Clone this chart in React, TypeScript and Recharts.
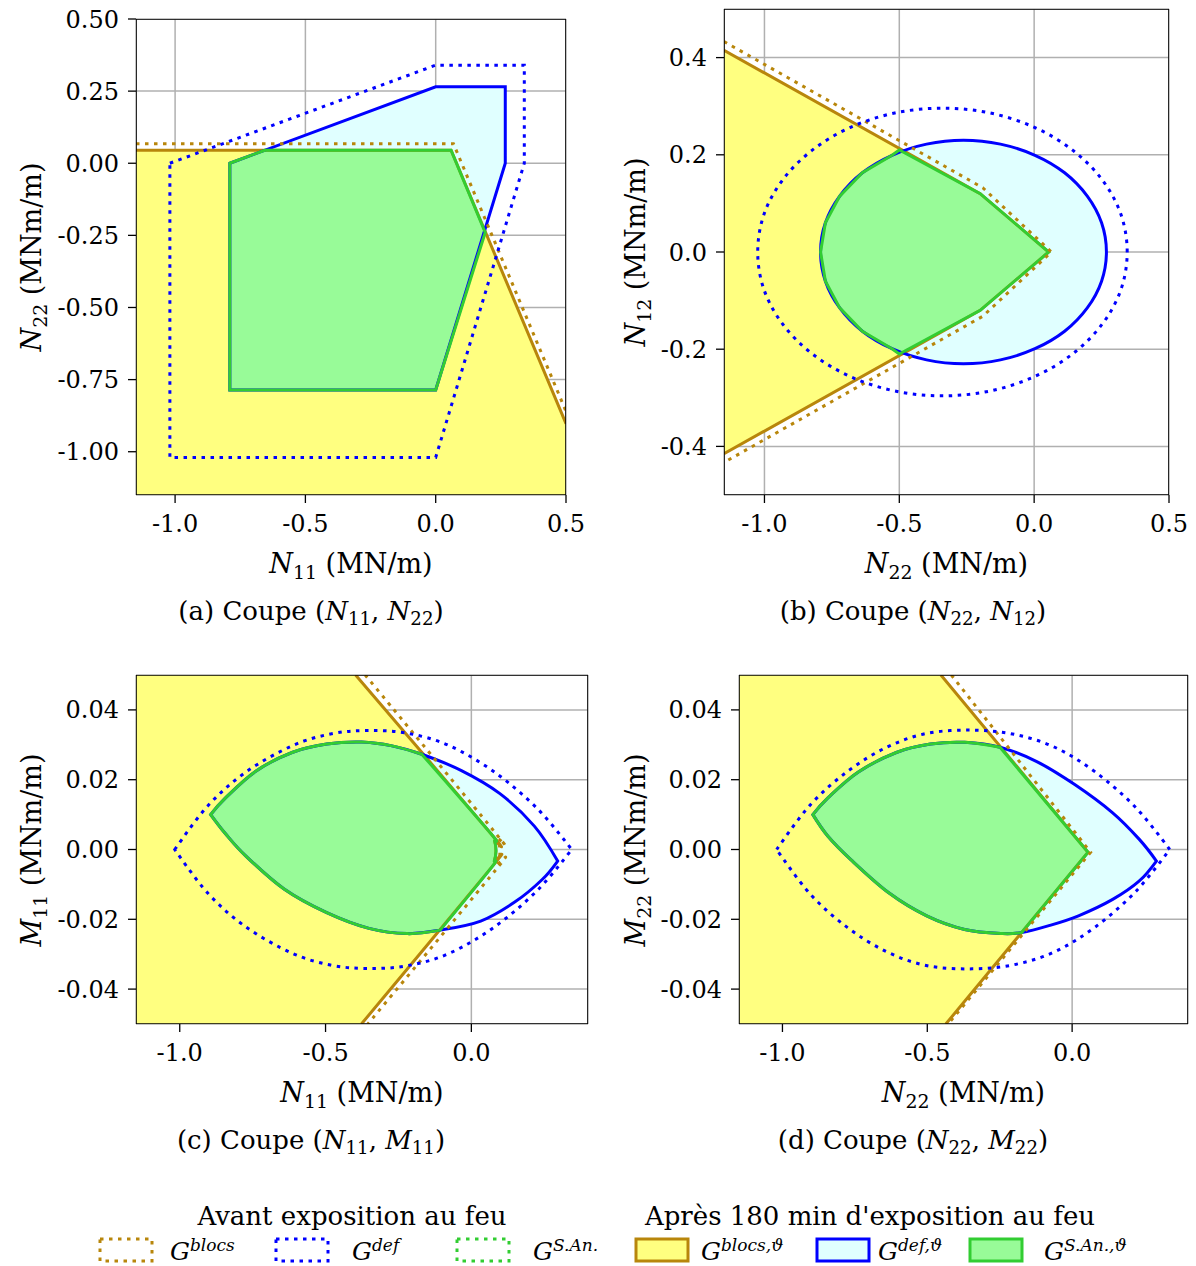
import React from "react";
import { CartesianGrid, Scatter, ScatterChart, XAxis, YAxis } from "recharts";

type XY = [number, number];

const BROWN = "#b8860b";
const YELLOW = "#ffff80";
const BLUE = "#0000ff";
const CYAN = "#e0ffff";
const GREEN = "#32cd32";
const PALEGREEN = "#98fb98";
const GRID = "#b0b0b0";
const FONT = "'DejaVu Serif', serif";

// ---- (a) Coupe (N11, N22) ----
const A_X_TICKS = [-1.0, -0.5, 0.0, 0.5];
const A_Y_TICKS = [-1.0, -0.75, -0.5, -0.25, 0.0, 0.25, 0.5];
const A_BLOCS_T: XY[] = [[-1.15, 0.045], [0.059, 0.045], [0.5, -0.903]];
const A_BLOCS_T_CLOSE: XY[] = [[0.5, -1.15], [-1.15, -1.15]];
const A_DEF_T: XY[] = [[-0.79, 0], [0, 0.265], [0.267, 0.265], [0.267, 0], [0, -0.786], [-0.79, -0.786]];
const A_SAN_T: XY[] = [[-0.79, 0], [-0.656, 0.045], [0.059, 0.045], [0.19, -0.24], [0, -0.786], [-0.79, -0.786]];
const A_BLOCS: XY[] = [[-1.15, 0.068], [0.068, 0.068], [0.5, -0.86]];
const A_DEF: XY[] = [[-1.02, 0], [0, 0.34], [0.34, 0.34], [0.34, 0], [0, -1.02], [-1.02, -1.02]];

// ---- (b) Coupe (N22, N12) ----
const B_X_TICKS = [-1.0, -0.5, 0.0, 0.5];
const B_Y_TICKS = [-0.4, -0.2, 0.0, 0.2, 0.4];
const B_BLOCS_T: XY[] = [[-1.15, 0.415], [-0.2, 0.12], [0.054, 0], [-0.2, -0.12], [-1.15, -0.415]];
const B_DEF_T: XY[] = [
  [0.268, 0], [0.25, 0.06], [0.197, 0.115], [0.113, 0.163], [0.003, 0.199], [-0.125, 0.222],
  [-0.262, 0.23], [-0.399, 0.222], [-0.527, 0.199], [-0.637, 0.163], [-0.721, 0.115], [-0.774, 0.06],
  [-0.792, 0], [-0.774, -0.06], [-0.721, -0.115], [-0.637, -0.163], [-0.527, -0.199], [-0.399, -0.222],
  [-0.262, -0.23], [-0.125, -0.222], [0.003, -0.199], [0.113, -0.163], [0.197, -0.115], [0.25, -0.06],
];
const B_SAN_T: XY[] = [
  [-0.5, 0.21], [-0.527, 0.199], [-0.637, 0.163], [-0.721, 0.115], [-0.774, 0.06], [-0.792, 0],
  [-0.774, -0.06], [-0.721, -0.115], [-0.637, -0.163], [-0.527, -0.199], [-0.5, -0.21],
  [-0.2, -0.12], [0.054, 0], [-0.2, 0.12],
];
const B_BLOCS: XY[] = [[-1.15, 0.433], [-0.19, 0.132], [0.064, 0], [-0.19, -0.132], [-1.15, -0.433]];
const B_DEF: XY[] = [
  [0.345, 0], [0.322, 0.077], [0.253, 0.148], [0.144, 0.209], [0.003, 0.256], [-0.163, 0.286],
  [-0.34, 0.296], [-0.517, 0.286], [-0.683, 0.256], [-0.824, 0.209], [-0.933, 0.148], [-1.002, 0.077],
  [-1.025, 0], [-1.002, -0.077], [-0.933, -0.148], [-0.824, -0.209], [-0.683, -0.256], [-0.517, -0.286],
  [-0.34, -0.296], [-0.163, -0.286], [0.003, -0.256], [0.144, -0.209], [0.253, -0.148], [0.322, -0.077],
];

// ---- (c) Coupe (N11, M11) ----
const C_X_TICKS = [-1.0, -0.5, 0.0];
const C_Y_TICKS = [-0.04, -0.02, 0.0, 0.02, 0.04];
const C_BLOCS_T: XY[] = [
  [-0.397, 0.05], [0.0646, 0.0048], [0.08, 0.0024], [0.0844, -0.0005], [0.079, -0.0033],
  [0.0686, -0.0052], [-0.377, -0.05],
];
const C_BLOCS_T_CLOSE: XY[] = [[-1.15, -0.05], [-1.15, 0.05]];
const C_DEF_T: XY[] = [
  [-0.894, 0.01], [-0.843, 0.0148], [-0.738, 0.0225], [-0.615, 0.0278], [-0.496, 0.0302],
  [-0.377, 0.0308], [-0.272, 0.0297], [-0.17, 0.0273], [-0.034, 0.0226], [0.098, 0.016],
  [0.216, 0.0067], [0.296, -0.0033], [0.243, -0.0086], [0.15, -0.015], [0.032, -0.0205],
  [-0.107, -0.0231], [-0.219, -0.0241], [-0.351, -0.0226], [-0.496, -0.0181], [-0.641, -0.0114],
  [-0.773, -0.0019], [-0.843, 0.0045],
];
const C_SAN_T: XY[] = [
  [-0.894, 0.01], [-0.843, 0.0148], [-0.738, 0.0225], [-0.615, 0.0278], [-0.496, 0.0302],
  [-0.377, 0.0308], [-0.272, 0.0297], [-0.17, 0.0273], [0.0646, 0.0048], [0.08, 0.0024],
  [0.0844, -0.0005], [0.079, -0.0033], [0.0686, -0.0052], [-0.107, -0.0231], [-0.219, -0.0241],
  [-0.351, -0.0226], [-0.496, -0.0181], [-0.641, -0.0114], [-0.773, -0.0019], [-0.843, 0.0045],
];
const C_BLOCS: XY[] = [
  [-0.364, 0.05], [0.078, 0.0052], [0.092, 0.003], [0.098, -0.0005], [0.093, -0.0038],
  [0.082, -0.006], [-0.355, -0.05],
];
const C_DEF: XY[] = [
  [-1.017, 0], [-0.905, 0.0124], [-0.773, 0.0222], [-0.615, 0.0297], [-0.483, 0.0331],
  [-0.357, 0.0341], [-0.219, 0.0333], [-0.074, 0.0297], [0.084, 0.0219], [0.23, 0.0114],
  [0.344, 0], [0.23, -0.0114], [0.084, -0.0219], [-0.074, -0.0297], [-0.219, -0.0333],
  [-0.357, -0.0341], [-0.483, -0.0331], [-0.615, -0.0297], [-0.773, -0.0222], [-0.905, -0.0124],
];

// ---- (d) Coupe (N22, M22) ----
const D_X_TICKS = [-1.0, -0.5, 0.0];
const D_Y_TICKS = [-0.04, -0.02, 0.0, 0.02, 0.04];
const D_BLOCS_T: XY[] = [[-0.453, 0.05], [0.055, -0.0008], [-0.436, -0.05]];
const D_BLOCS_T_CLOSE: XY[] = [[-1.15, -0.05], [-1.15, 0.05]];
const D_DEF_T: XY[] = [
  [-0.895, 0.01], [-0.843, 0.0148], [-0.738, 0.0222], [-0.607, 0.0278], [-0.489, 0.0302],
  [-0.371, 0.0307], [-0.249, 0.0293], [-0.122, 0.0252], [0.009, 0.0186], [0.14, 0.0105],
  [0.232, 0.0029], [0.291, -0.0033], [0.232, -0.009], [0.14, -0.0143], [0.022, -0.019],
  [-0.083, -0.0219], [-0.174, -0.0238], [-0.24, -0.0241], [-0.371, -0.0229], [-0.502, -0.019],
  [-0.633, -0.0124], [-0.764, -0.0029], [-0.843, 0.0038],
];
const D_SAN_T: XY[] = [
  [-0.895, 0.01], [-0.843, 0.0148], [-0.738, 0.0222], [-0.607, 0.0278], [-0.489, 0.0302],
  [-0.371, 0.0307], [-0.249, 0.0293], [0.055, -0.0008], [-0.174, -0.0238], [-0.24, -0.0241],
  [-0.371, -0.0229], [-0.502, -0.019], [-0.633, -0.0124], [-0.764, -0.0029], [-0.843, 0.0038],
];
const D_BLOCS: XY[] = [[-0.417, 0.05], [0.064, -0.0008], [-0.428, -0.05]];
const D_DEF: XY[] = [
  [-1.02, 0], [-0.905, 0.0127], [-0.775, 0.0224], [-0.64, 0.0293], [-0.5, 0.0333],
  [-0.345, 0.0342], [-0.2, 0.033], [-0.06, 0.0293], [0.08, 0.0222], [0.22, 0.012],
  [0.337, 0], [0.22, -0.012], [0.08, -0.0222], [-0.06, -0.0293], [-0.2, -0.033],
  [-0.345, -0.0342], [-0.5, -0.0333], [-0.64, -0.0293], [-0.775, -0.0224], [-0.905, -0.0127],
];

// legend labels
const LEGEND_TITLES = ["Avant exposition au feu", "Après 180 min d'exposition au feu"];
const LEGEND_SUPS = ["blocs", "def", "S.An.", "blocs,ϑ", "def,ϑ", "S.An.,ϑ"];

interface Layer {
  data: XY[];
  fill?: string;
  stroke?: string;
  dotted?: boolean;
  closed?: boolean;
  smooth?: boolean;
  width?: number;
}

interface Box {
  left: number;
  top: number;
  w: number;
  h: number;
}

const YW = 90; // y axis band
const MT = 14;
const MR = 24;
const XH = 50;
const DOTS = "3.5 5.5";

const pts = (d: XY[]) => d.map(([x, y]) => ({ x, y }));
const NoDot = () => <g />;

type Pt = { x: number; y: number };

// path through the scaled points; smooth = catmull-rom, sharp turns kept as corners
function pathD(p: Pt[], closed: boolean, smooth: boolean) {
  const n = p.length;
  if (!n) return "";
  if (!smooth) return "M" + p.map((q) => `${q.x},${q.y}`).join("L") + (closed ? "Z" : "");
  const get = (i: number) => (closed ? p[(i + n) % n] : p[Math.max(0, Math.min(n - 1, i))]);
  const isCorner = (i: number) => {
    if (!closed && (i === 0 || i === n - 1)) return true;
    const a = get(i - 1), b = get(i), c = get(i + 1);
    let d = Math.abs(Math.atan2(c.y - b.y, c.x - b.x) - Math.atan2(b.y - a.y, b.x - a.x));
    if (d > Math.PI) d = 2 * Math.PI - d;
    return d > (26 * Math.PI) / 180;
  };
  const tan = (i: number) => {
    if (isCorner(i)) return { x: 0, y: 0 };
    const a = get(i - 1), c = get(i + 1);
    return { x: (c.x - a.x) / 2, y: (c.y - a.y) / 2 };
  };
  let d = `M${p[0].x},${p[0].y}`;
  const segs = closed ? n : n - 1;
  for (let i = 0; i < segs; i++) {
    const p0 = get(i), p1 = get(i + 1), t0 = tan(i), t1 = tan(i + 1);
    d += `C${p0.x + t0.x / 3},${p0.y + t0.y / 3} ${p1.x - t1.x / 3},${p1.y - t1.y / 3} ${p1.x},${p1.y}`;
  }
  return d + (closed ? "Z" : "");
}

function Panel({
  box,
  xDomain,
  yDomain,
  xTicks,
  yTicks,
  xDec,
  yDec,
  fills,
  edges,
}: {
  box: Box;
  xDomain: [number, number];
  yDomain: [number, number];
  xTicks: number[];
  yTicks: number[];
  xDec: number;
  yDec: number;
  fills: Layer[];
  edges: Layer[];
}) {
  const frame: XY[] = [
    [xDomain[0], yDomain[0]],
    [xDomain[1], yDomain[0]],
    [xDomain[1], yDomain[1]],
    [xDomain[0], yDomain[1]],
  ];
  const tickStyle = { fill: "#000", fontSize: 24, fontFamily: FONT };
  const layer = (l: Layer, key: string) => (
    <Scatter
      key={key}
      data={pts(l.data)}
      isAnimationActive={false}
      shape={NoDot}
      legendType="none"
      lineType="joint"
      line={(lp: any) => (
        <path
          d={pathD(lp.points as Pt[], !!l.closed, !!l.smooth)}
          fill={l.fill ?? "none"}
          stroke={l.stroke ?? "none"}
          strokeWidth={l.width ?? 3}
          strokeDasharray={l.dotted ? DOTS : undefined}
          strokeLinejoin="miter"
        />
      )}
    />
  );
  return (
    <div style={{ position: "absolute", left: box.left - YW, top: box.top - MT }}>
      <ScatterChart
        width={box.w + YW + MR}
        height={box.h + MT + XH}
        margin={{ top: MT, right: MR, bottom: 0, left: 0 }}
      >
        <XAxis
          type="number"
          dataKey="x"
          domain={xDomain}
          ticks={xTicks}
          allowDataOverflow
          height={XH}
          axisLine={false}
          tickSize={8}
          tickMargin={12}
          tickLine={{ stroke: "#000", strokeWidth: 1.3 }}
          tick={tickStyle}
          tickFormatter={(v: number) => v.toFixed(xDec)}
          interval={0}
        />
        <YAxis
          type="number"
          dataKey="y"
          domain={yDomain}
          ticks={yTicks}
          allowDataOverflow
          width={YW}
          axisLine={false}
          tickSize={8}
          tickMargin={9}
          tickLine={{ stroke: "#000", strokeWidth: 1.3 }}
          tick={tickStyle}
          tickFormatter={(v: number) => v.toFixed(yDec)}
          interval={0}
        />
        {fills.map((l, i) => layer(l, `f${i}`))}
        <CartesianGrid stroke={GRID} strokeWidth={1.5} />
        {edges.map((l, i) => layer(l, `e${i}`))}
        {layer({ data: frame, stroke: "#000", closed: true, width: 1.6 }, "frame")}
      </ScatterChart>
    </div>
  );
}

const subStyle: React.CSSProperties = { fontSize: "0.7em", position: "relative", top: "0.3em" };
const supStyle: React.CSSProperties = { fontSize: "0.68em", position: "relative", top: "-0.55em", fontStyle: "italic" };

function V({ s, sub }: { s: string; sub: string }) {
  return (
    <span style={{ whiteSpace: "nowrap" }}>
      <i>{s}</i>
      <span style={subStyle}>{sub}</span>
    </span>
  );
}

function XLabel({ cx, cy, size = 26, children }: { cx: number; cy: number; size?: number; children: React.ReactNode }) {
  return (
    <div
      style={{
        position: "absolute",
        left: cx,
        top: cy,
        transform: "translate(-50%, -50%)",
        whiteSpace: "nowrap",
        fontFamily: FONT,
        fontSize: size,
        lineHeight: 1,
      }}
    >
      {children}
    </div>
  );
}

function YLabel({ cx, cy, children }: { cx: number; cy: number; children: React.ReactNode }) {
  return (
    <div
      style={{
        position: "absolute",
        left: cx,
        top: cy,
        transform: "translate(-50%, -50%) rotate(-90deg)",
        whiteSpace: "nowrap",
        fontFamily: FONT,
        fontSize: 27,
        lineHeight: 1,
      }}
    >
      {children}
    </div>
  );
}

function LegendBox({ left, stroke, fill, dotted }: { left: number; stroke: string; fill?: string; dotted?: boolean }) {
  return (
    <svg style={{ position: "absolute", left, top: 1237 }} width={56} height={26}>
      <rect
        x={2}
        y={2}
        width={52}
        height={22}
        fill={fill ?? "none"}
        stroke={stroke}
        strokeWidth={3}
        strokeDasharray={dotted ? DOTS : undefined}
      />
    </svg>
  );
}

function LegendLabel({ left, sup }: { left: number; sup: string }) {
  return (
    <div
      style={{
        position: "absolute",
        left,
        top: 1251,
        transform: "translateY(-50%)",
        fontFamily: FONT,
        fontSize: 25,
        lineHeight: 1,
        whiteSpace: "nowrap",
      }}
    >
      <i>G</i>
      <span style={supStyle}>{sup}</span>
    </div>
  );
}

const BOX_A: Box = { left: 136, top: 19, w: 430, h: 476 };
const BOX_B: Box = { left: 724, top: 9, w: 445, h: 486 };
const BOX_C: Box = { left: 136, top: 675, w: 452, h: 349 };
const BOX_D: Box = { left: 739, top: 675, w: 449, h: 349 };

export default function App() {
  return (
    <div
      style={{
        position: "absolute",
        left: 0,
        top: 0,
        width: 1196,
        height: 1266,
        background: "#fff",
        fontFamily: FONT,
        color: "#000",
      }}
    >
      <Panel
        box={BOX_A}
        xDomain={[-1.15, 0.5]}
        yDomain={[-1.15, 0.5]}
        xTicks={A_X_TICKS}
        yTicks={A_Y_TICKS}
        xDec={1}
        yDec={2}
        fills={[
          { data: [...A_BLOCS_T, ...A_BLOCS_T_CLOSE], fill: YELLOW, closed: true },
          { data: A_DEF_T, fill: CYAN, closed: true },
          { data: A_SAN_T, fill: PALEGREEN, closed: true },
        ]}
        edges={[
          { data: A_BLOCS_T, stroke: BROWN },
          { data: A_DEF_T, stroke: BLUE, closed: true },
          { data: A_SAN_T, stroke: GREEN, closed: true },
          { data: A_BLOCS, stroke: BROWN, dotted: true },
          { data: A_DEF, stroke: BLUE, dotted: true, closed: true },
        ]}
      />
      <Panel
        box={BOX_B}
        xDomain={[-1.15, 0.5]}
        yDomain={[-0.5, 0.5]}
        xTicks={B_X_TICKS}
        yTicks={B_Y_TICKS}
        xDec={1}
        yDec={1}
        fills={[
          { data: B_BLOCS_T, fill: YELLOW, closed: true },
          { data: B_DEF_T, fill: CYAN, closed: true, smooth: true },
          { data: B_SAN_T, fill: PALEGREEN, closed: true },
        ]}
        edges={[
          { data: B_BLOCS_T, stroke: BROWN },
          { data: B_DEF_T, stroke: BLUE, closed: true, smooth: true },
          { data: B_SAN_T, stroke: GREEN, closed: true },
          { data: B_BLOCS, stroke: BROWN, dotted: true },
          { data: B_DEF, stroke: BLUE, dotted: true, closed: true, smooth: true },
        ]}
      />
      <Panel
        box={BOX_C}
        xDomain={[-1.15, 0.4]}
        yDomain={[-0.05, 0.05]}
        xTicks={C_X_TICKS}
        yTicks={C_Y_TICKS}
        xDec={1}
        yDec={2}
        fills={[
          { data: [...C_BLOCS_T, ...C_BLOCS_T_CLOSE], fill: YELLOW, closed: true, smooth: true },
          { data: C_DEF_T, fill: CYAN, closed: true, smooth: true },
          { data: C_SAN_T, fill: PALEGREEN, closed: true, smooth: true },
        ]}
        edges={[
          { data: C_BLOCS_T, stroke: BROWN, smooth: true },
          { data: C_DEF_T, stroke: BLUE, closed: true, smooth: true },
          { data: C_SAN_T, stroke: GREEN, closed: true, smooth: true },
          { data: C_BLOCS, stroke: BROWN, dotted: true, smooth: true },
          { data: C_DEF, stroke: BLUE, dotted: true, closed: true, smooth: true },
        ]}
      />
      <Panel
        box={BOX_D}
        xDomain={[-1.15, 0.4]}
        yDomain={[-0.05, 0.05]}
        xTicks={D_X_TICKS}
        yTicks={D_Y_TICKS}
        xDec={1}
        yDec={2}
        fills={[
          { data: [...D_BLOCS_T, ...D_BLOCS_T_CLOSE], fill: YELLOW, closed: true },
          { data: D_DEF_T, fill: CYAN, closed: true, smooth: true },
          { data: D_SAN_T, fill: PALEGREEN, closed: true, smooth: true },
        ]}
        edges={[
          { data: D_BLOCS_T, stroke: BROWN },
          { data: D_DEF_T, stroke: BLUE, closed: true, smooth: true },
          { data: D_SAN_T, stroke: GREEN, closed: true, smooth: true },
          { data: D_BLOCS, stroke: BROWN, dotted: true },
          { data: D_DEF, stroke: BLUE, dotted: true, closed: true, smooth: true },
        ]}
      />

      {/* axis labels */}
      <XLabel cx={BOX_A.left + BOX_A.w / 2} cy={563} size={27}>
        <V s="N" sub="11" /> (MN/m)
      </XLabel>
      <YLabel cx={31} cy={BOX_A.top + BOX_A.h / 2}>
        <V s="N" sub="22" /> (MNm/m)
      </YLabel>
      <XLabel cx={BOX_B.left + BOX_B.w / 2} cy={563} size={27}>
        <V s="N" sub="22" /> (MN/m)
      </XLabel>
      <YLabel cx={635} cy={BOX_B.top + BOX_B.h / 2}>
        <V s="N" sub="12" /> (MNm/m)
      </YLabel>
      <XLabel cx={BOX_C.left + BOX_C.w / 2} cy={1092} size={27}>
        <V s="N" sub="11" /> (MN/m)
      </XLabel>
      <YLabel cx={31} cy={BOX_C.top + BOX_C.h / 2}>
        <V s="M" sub="11" /> (MNm/m)
      </YLabel>
      <XLabel cx={BOX_D.left + BOX_D.w / 2} cy={1092} size={27}>
        <V s="N" sub="22" /> (MN/m)
      </XLabel>
      <YLabel cx={635} cy={BOX_D.top + BOX_D.h / 2}>
        <V s="M" sub="22" /> (MNm/m)
      </YLabel>

      {/* sub-captions */}
      <XLabel cx={311} cy={611}>
        (a) Coupe (<V s="N" sub="11" />, <V s="N" sub="22" />)
      </XLabel>
      <XLabel cx={913} cy={611}>
        (b) Coupe (<V s="N" sub="22" />, <V s="N" sub="12" />)
      </XLabel>
      <XLabel cx={311} cy={1140}>
        (c) Coupe (<V s="N" sub="11" />, <V s="M" sub="11" />)
      </XLabel>
      <XLabel cx={913} cy={1140}>
        (d) Coupe (<V s="N" sub="22" />, <V s="M" sub="22" />)
      </XLabel>

      {/* legend */}
      <XLabel cx={352} cy={1216}>{LEGEND_TITLES[0]}</XLabel>
      <XLabel cx={870} cy={1216}>{LEGEND_TITLES[1]}</XLabel>
      <LegendBox left={98} stroke={BROWN} dotted />
      <LegendLabel left={170} sup={LEGEND_SUPS[0]} />
      <LegendBox left={274} stroke={BLUE} dotted />
      <LegendLabel left={352} sup={LEGEND_SUPS[1]} />
      <LegendBox left={455} stroke={GREEN} dotted />
      <LegendLabel left={533} sup={LEGEND_SUPS[2]} />
      <LegendBox left={634} stroke={BROWN} fill={YELLOW} />
      <LegendLabel left={701} sup={LEGEND_SUPS[3]} />
      <LegendBox left={815} stroke={BLUE} fill={CYAN} />
      <LegendLabel left={878} sup={LEGEND_SUPS[4]} />
      <LegendBox left={968} stroke={GREEN} fill={PALEGREEN} />
      <LegendLabel left={1044} sup={LEGEND_SUPS[5]} />
    </div>
  );
}
